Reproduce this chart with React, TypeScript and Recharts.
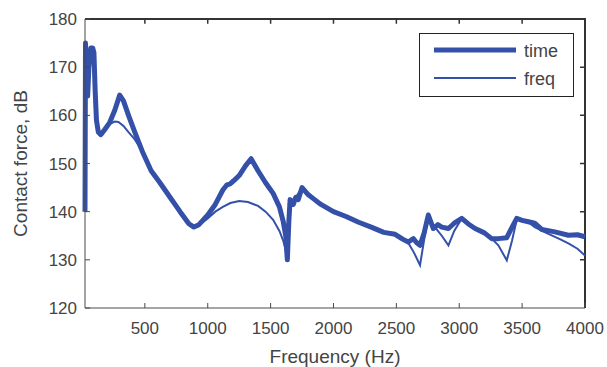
import { Label, Legend, Line, LineChart, XAxis, YAxis } from 'recharts';

// frequency (Hz) / contact force (dB)
const timeFreqs = [
  24, 28, 35, 45, 55, 70, 85, 95, 105, 115, 130, 150, 180, 220, 260, 300, 330, 370, 420, 480, 550, 620,
  700, 780, 850, 890, 930, 1000, 1060, 1120, 1150, 1180, 1210, 1250, 1300, 1345, 1400, 1460, 1520, 1570,
  1600, 1620, 1633, 1645, 1655, 1680, 1700, 1720, 1750, 1800, 1850, 1900, 2000, 2100, 2200, 2300, 2400,
  2490, 2550, 2595, 2635, 2660, 2688, 2720, 2754, 2794, 2830, 2861, 2914, 2960, 3020, 3070, 3126, 3200,
  3258, 3311, 3378, 3420, 3457, 3500, 3550, 3600, 3656, 3760, 3868, 3940, 4000,
];
const timeValues = [
  140, 175, 168, 164, 170, 174, 174, 173, 165, 159, 156.5, 156, 157, 158.5, 161, 164.2, 163, 160, 156.5,
  152.5, 148.5, 146, 143, 140, 137.5, 136.8, 137.3, 139.3, 141.5, 144.5, 145.5, 145.8, 146.5, 147.5,
  149.5, 151, 148.5, 146, 143.8, 141, 138, 135, 130, 138, 142.5, 141.5, 143, 142.5, 145, 143.5, 142.5,
  141.5, 140, 139, 137.8, 136.8, 135.7, 135.3, 134.3, 133.7, 134.4, 133.6, 133, 135.5, 139.3, 136.5,
  137.3, 136.8, 136.5, 137.6, 138.6, 137.5, 136.5, 135.6, 134.4, 134.4, 134.6, 136.8, 138.6, 138.2,
  137.9, 137.6, 136.3, 135.8, 135.1, 135.2, 134.8,
];

const freqFreqs = [
  24, 28, 35, 45, 55, 70, 85, 95, 105, 115, 130, 150, 180, 220, 260, 290, 330, 370, 420, 480, 550, 620,
  700, 780, 850, 890, 930, 1000, 1060, 1120, 1180, 1250, 1320, 1400, 1460, 1520, 1570, 1600, 1620, 1633,
  1645, 1660, 1700, 1750, 1800, 1850, 1900, 2000, 2100, 2200, 2300, 2400, 2490, 2550, 2595, 2640, 2688,
  2720, 2754, 2800, 2861, 2914, 2960, 3020, 3070, 3126, 3200, 3258, 3311, 3378, 3420, 3457, 3500, 3550,
  3600, 3700, 3800, 3868, 3940, 4000,
];
const freqValues = [
  140, 175, 168, 164, 170, 174, 174, 173, 165, 159, 156.5, 156, 157, 158.2, 158.7, 158.6, 157.8, 156.5,
  155, 152.5, 148.5, 146, 143, 140, 137.5, 136.8, 137.2, 138.6, 140, 141, 141.8, 142.2, 142, 141.2, 140,
  138.3, 136, 134, 132, 130.5, 137, 142, 143, 145, 143.5, 142.5, 141.5, 140, 139, 137.8, 136.8, 135.7,
  135.3, 134.3, 133.5, 131.5, 128.9, 134, 139.3, 137, 135, 133, 136, 138.6, 137.5, 136.5, 135.6, 134.4,
  133, 129.9, 134, 138.3, 138.2, 137.8, 136.8, 135.5, 134.3, 133.4, 132.3, 130.9,
];

const xTicks = [500, 1000, 1500, 2000, 2500, 3000, 3500, 4000];
const yTicks = [120, 130, 140, 150, 160, 170, 180];
const X_MIN = 24;
const X_MAX = 4000;
const Y_MIN = 120;
const Y_MAX = 180;

const timeData = timeFreqs.map((f, i) => ({ f, v: timeValues[i] }));
const freqData = freqFreqs.map((f, i) => ({ f, v: freqValues[i] }));

// top + right edges of the box, with short inward ticks (gaps via null)
const frameData = [
  { f: X_MIN, v: Y_MAX },
  { f: X_MAX, v: Y_MAX },
  { f: X_MAX, v: Y_MIN },
];
const topTickData = xTicks.slice(0, -1).flatMap(t => [
  { f: t, v: Y_MAX },
  { f: t, v: Y_MAX - 1 },
  { f: t, v: null },
]);
const rightTickData = yTicks.slice(1, -1).flatMap(t => [
  { f: X_MAX, v: t },
  { f: X_MAX - 40, v: t },
  { f: X_MAX - 40, v: null },
]);

const BLUE = '#3450a8';
const AXIS = '#4a4a4a';
const TEXT = '#444';
const FONT = '"Liberation Sans", Arial, sans-serif';

function LegendBox() {
  return (
    <svg width={155} height={65} style={{ display: 'block' }}>
      <rect x={0.5} y={0.5} width={154} height={63} fill='#fff' stroke='#222' />
      <line x1={15} x2={97} y1={17} y2={17} stroke={BLUE} strokeWidth={5} />
      <line x1={15} x2={97} y1={45} y2={45} stroke={BLUE} strokeWidth={2} />
      <text x={105} y={24} fontSize={18} fill={TEXT} fontFamily={FONT}>time</text>
      <text x={105} y={52} fontSize={18} fill={TEXT} fontFamily={FONT}>freq</text>
    </svg>
  );
}

export default function App() {
  return (
    <div style={{ position: 'fixed', left: 0, top: 0, background: '#fff' }}>
      <LineChart width={607} height={367} margin={{ top: 19, right: 22, bottom: 0, left: 0 }}>
        <XAxis
          dataKey='f'
          type='number'
          domain={[X_MIN, X_MAX]}
          ticks={xTicks}
          height={59}
          stroke={AXIS}
          tickSize={-5}
          tickMargin={19}
          tick={{ fontSize: 17, fill: TEXT, fontFamily: FONT }}
        >
          <Label
            value='Frequency (Hz)'
            position='insideBottom'
            offset={4}
            style={{ fontSize: 19, fill: TEXT, fontFamily: FONT }}
          />
        </XAxis>
        <YAxis
          type='number'
          domain={[Y_MIN, Y_MAX]}
          ticks={yTicks}
          width={85}
          stroke={AXIS}
          tickSize={-5}
          tickMargin={13}
          tick={{ fontSize: 17, fill: TEXT, fontFamily: FONT }}
        >
          <Label
            value='Contact force, dB'
            angle={-90}
            position='insideLeft'
            offset={20}
            style={{ fontSize: 19, fill: TEXT, fontFamily: FONT, textAnchor: 'middle' }}
          />
        </YAxis>
        <Legend
          layout='vertical'
          align='center'
          verticalAlign='middle'
          wrapperStyle={{ left: 419, top: 33, width: 155 }}
          content={() => <LegendBox />}
        />
        <Line data={frameData} dataKey='v' stroke='#333' strokeWidth={2} dot={false} legendType='none' isAnimationActive={false} />
        <Line data={topTickData} dataKey='v' stroke='#333' strokeWidth={1.5} dot={false} legendType='none' isAnimationActive={false} />
        <Line data={rightTickData} dataKey='v' stroke='#333' strokeWidth={1.5} dot={false} legendType='none' isAnimationActive={false} />
        <Line
          data={timeData}
          dataKey='v'
          name='time'
          type='linear'
          stroke={BLUE}
          strokeWidth={5}
          strokeLinejoin='round'
          dot={false}
          isAnimationActive={false}
        />
        <Line
          data={freqData}
          dataKey='v'
          name='freq'
          type='linear'
          stroke={BLUE}
          strokeWidth={2}
          dot={false}
          isAnimationActive={false}
        />
      </LineChart>
    </div>
  );
}
